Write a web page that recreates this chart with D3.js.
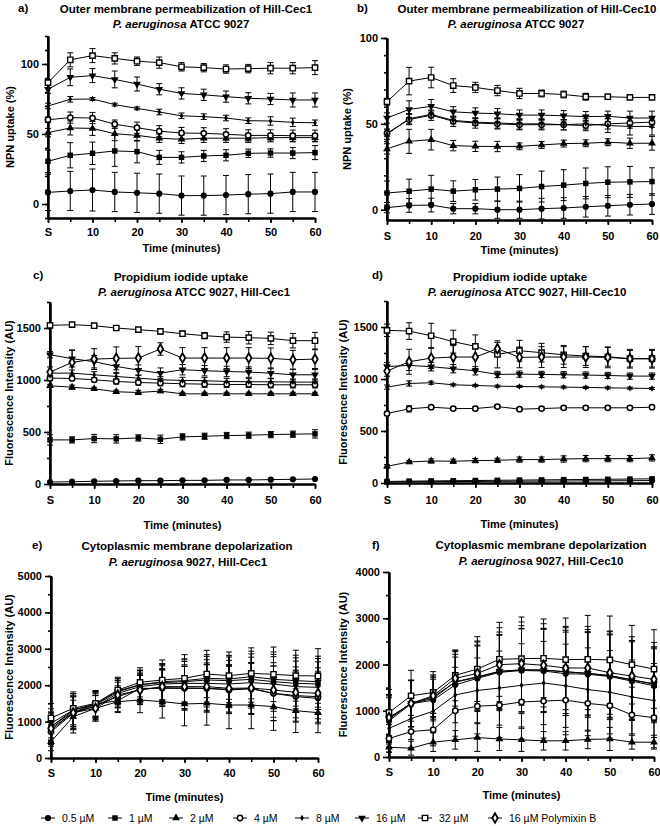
<!DOCTYPE html>
<html><head><meta charset="utf-8">
<script src="https://cdn.jsdelivr.net/npm/d3@7"></script>
<style>body{margin:0;background:#fff} svg{font-family:"Liberation Sans",Arial,sans-serif}</style>
</head><body><svg id="chart" width="660" height="826"></svg>
<script>
const times = [0,5,10,15,20,25,30,35,40,45,50,55,60];
const xMajor = [0,10,20,30,40,50,60];
const xLabels = ["S","10","20","30","40","50","60"];
const seriesNames = ["0.5 µM","1 µM","2 µM","4 µM","8 µM","16 µM","32 µM","16 µM Polymixin B"];

// a) NPN uptake, Hill-Cec1
const a_05 = [8.3,9.3,10,8.6,8,7.4,6,6,6.4,7,7.4,8.6,8.6];
const a_05_sd = [13,14,15,14,14,14,14,14,14,14,14,14,14];
const a_1 = [30.5,34.8,36.2,37.9,37.4,33.3,33.3,34.3,34.8,36.2,36.4,36.4,36.7];
const a_1_sd = [8,9,8,11,8,5,4,4,4,3,3,4,5];
const a_2 = [51,54.3,54,50.2,49,47,46.2,47,47,47,47.4,47.4,47.4];
const a_2_sd = [3,5,5,5,4,3,3,3,3,3,3,3,3];
const a_4 = [60.2,61.7,61.4,57,54.5,52,50.7,50.5,49.8,49,49,48.8,48.8];
const a_4_sd = [2,4,4,3,4,4,4,4,4,4,4,4,4];
const a_8 = [70,74.8,75,71,68.3,65.7,63,62.4,61.4,59.5,59.3,58.3,58];
const a_8_sd = [2,2,1,1,1,2,2,2,2,2,3,3,2];
const a_16 = [82,90.5,91.7,89,85.7,82,79,78,76.7,75.5,75,74.3,74.3];
const a_16_sd = [3,6,5,6,5,4,4,4,4,4,4,5,5];
const a_32 = [86.7,103,106,104,102,101,98,97.4,96.4,96.7,97,97,97.4];
const a_32_sd = [2,5,5,4,3,4,3,3,3,3,4,4,5];

// b) NPN uptake, Hill-Cec10
const b_05 = [1.2,2.5,2.7,0.6,0.6,0,0,0.6,1,1.7,2.3,2.9,3.3];
const b_05_sd = [3,4,4,3,3,5,5,6,6,6,6,6,6];
const b_1 = [9.7,10.8,12,10.8,11.6,12,12.4,13.5,14.3,15.3,16,16.2,16.4];
const b_1_sd = [7,7,8,6,6,7,8,9,9,9,9,9,8];
const b_2 = [35.4,39.8,40.8,37.3,36.9,36.8,36.9,37.7,38.5,38.7,39.3,38.7,38.7];
const b_2_sd = [3,7,6,3,3,3,2,2,2,2,2,3,4];
const b_4 = [44.5,52.5,55,51.5,50.5,50,49.5,49.5,49.5,49,50,50.5,51];
const b_4_sd = [2,3,3,3,3,3,3,3,3,3,3,3,3];
const b_8 = [44,53,55.5,52,51,50.5,50,50,49.5,50,49,48.5,48.5];
const b_8_sd = [3,3,2,2,2,3,3,3,3,3,4,5,5];
const b_16 = [53.4,58.4,60.2,57,56.3,55.9,55.1,55.1,54.7,54.2,54.4,53.4,53.4];
const b_16_sd = [3,5,4,3,3,3,3,3,3,3,3,4,4];
const b_32 = [62.9,74.9,77,72.3,71.2,69.4,67.7,67.7,67.1,65.8,65.8,65.4,65.4];
const b_32_sd = [2,8,6,4,3,3,3,2,2,2,1,1,1];

// c) PI uptake, Hill-Cec1
const c_05 = [19,22,26,29,32,32,35,35,39,39,42,45,48];
const c_05_sd = [5,5,5,5,5,5,5,5,5,5,5,5,5];
const c_1 = [424,424,437,434,443,430,453,459,466,469,475,479,482];
const c_1_sd = [50,30,40,40,30,40,30,30,30,30,30,30,40];
const c_2 = [944,931,915,887,880,893,867,867,867,867,867,867,867];
const c_2_sd = [15,20,15,15,20,15,15,15,15,15,15,15,15];
const c_4 = [1018,1015,1002,986,976,970,964,960,957,957,954,954,954];
const c_4_sd = [20,20,20,25,25,25,30,30,30,30,30,30,30];
const c_8 = [1066,1066,1050,1034,1018,1002,996,993,986,983,983,980,980];
const c_8_sd = [20,30,30,30,30,30,30,30,30,30,30,30,30];
const c_16 = [1243,1205,1176,1131,1095,1066,1099,1089,1082,1076,1066,1050,1050];
const c_16_sd = [30,80,60,60,50,50,50,50,50,50,50,50,50];
const c_32 = [1525,1532,1522,1500,1484,1468,1445,1426,1413,1407,1400,1378,1378];
const c_32_sd = [20,15,15,15,20,25,25,30,50,60,60,70,80];
const c_pmb = [1076,1169,1201,1208,1211,1298,1211,1211,1211,1211,1208,1195,1201];
const c_pmb_sd = [50,120,100,110,110,60,100,100,100,100,100,90,90];

// d) PI uptake, Hill-Cec10
const d_05 = [10,12,13,14,15,16,17,18,19,20,21,22,24];
const d_05_sd = [5,5,5,5,5,5,5,5,5,5,5,5,5];
const d_1 = [15,18,20,22,24,26,28,30,32,34,36,38,40];
const d_1_sd = [10,10,10,10,10,10,10,10,10,10,10,10,10];
const d_2 = [161,202,212,209,215,218,225,225,231,234,234,234,241];
const d_2_sd = [15,15,20,20,20,20,25,25,30,30,30,30,30];
const d_4 = [668,713,729,716,716,735,710,716,723,723,723,723,729];
const d_4_sd = [20,30,15,15,20,15,15,15,15,15,15,15,15];
const d_8 = [922,957,964,944,938,931,928,925,922,919,915,912,909];
const d_8_sd = [20,25,15,10,10,10,10,10,10,10,10,10,10];
const d_16 = [1120,1131,1118,1099,1079,1044,1047,1044,1041,1038,1034,1028,1028];
const d_16_sd = [40,50,40,40,40,30,30,30,30,30,30,30,30];
const d_32 = [1468,1461,1416,1359,1314,1237,1272,1253,1233,1221,1214,1195,1195];
const d_32_sd = [60,80,120,110,110,130,100,90,90,90,90,80,80];
const d_pmb = [1076,1166,1201,1211,1211,1291,1208,1211,1211,1211,1208,1195,1195];
const d_pmb_sd = [50,120,100,110,110,60,100,100,100,100,100,90,90];

// e) DiSC3(5), Hill-Cec1
const e_05 = [769,1245,1484,1575,1914,1914,1914,1914,1887,1905,1777,1685,1639];
const e_05_sd = [400,450,350,300,400,500,600,650,650,700,750,700,700];
const e_1 = [861,1319,1484,1841,2015,2070,2097,2143,2125,2161,2097,2051,2033];
const e_1_sd = [400,450,350,350,400,500,600,650,650,700,750,700,700];
const e_2 = [449,1136,1365,1548,1594,1548,1484,1502,1456,1456,1410,1300,1245];
const e_2_sd = [250,450,350,300,350,450,600,600,650,650,650,600,550];
const e_4 = [723,1227,1438,1685,1887,1932,1923,1914,1868,1905,1777,1713,1685];
const e_4_sd = [400,450,350,300,400,500,600,650,650,700,750,700,700];
const e_8 = [861,1273,1410,1777,1960,2033,2051,2051,2033,2070,2033,1960,1941];
const e_8_sd = [400,450,350,350,400,500,600,650,650,700,750,700,700];
const e_16 = [952,1319,1456,1822,2006,2097,2125,2189,2170,2234,2161,2125,2097];
const e_16_sd = [400,450,350,350,400,500,600,650,650,700,750,700,700];
const e_32 = [1099,1365,1502,1868,2079,2143,2189,2308,2262,2326,2299,2262,2253];
const e_32_sd = [400,450,350,350,400,550,650,650,650,700,750,700,750];
const e_pmb = [815,1245,1365,1731,1868,1960,1960,1960,1914,1923,1868,1804,1777];
const e_pmb_sd = [400,450,350,350,400,500,600,650,650,700,750,700,700];

// f) DiSC3(5), Hill-Cec10
const f_05 = [780,1150,1230,1560,1700,1830,1870,1860,1800,1790,1740,1640,1540];
const f_05_sd = [500,500,450,600,700,800,900,900,900,900,900,850,800];
const f_1 = [820,1160,1300,1620,1720,1850,1880,1880,1840,1810,1760,1670,1580];
const f_1_sd = [500,500,450,600,700,800,900,900,900,900,900,850,800];
const f_2 = [210,190,320,370,420,390,370,350,350,380,390,320,320];
const f_2_sd = [100,150,200,200,300,250,250,200,200,200,250,150,150];
const f_4 = [400,550,590,1000,1100,1120,1190,1210,1230,1160,1110,910,850];
const f_4_sd = [300,350,350,550,600,700,800,800,750,700,700,600,650];
const f_8 = [620,830,990,1340,1440,1490,1550,1600,1540,1460,1400,1300,1220];
const f_8_sd = [400,450,450,600,700,800,900,900,900,900,900,800,800];
const f_16 = [839,1157,1266,1627,1736,1852,1888,1881,1844,1808,1758,1664,1577];
const f_16_sd = [500,500,450,650,750,850,950,900,950,950,950,850,800];
const f_32 = [962,1324,1396,1765,1902,2112,2127,2134,2105,2112,2098,1996,1902];
const f_32_sd = [500,550,450,550,700,800,900,850,900,950,950,850,850];
const f_pmb = [853,1157,1324,1700,1808,1996,2018,1982,1924,1924,1823,1750,1678];
const f_pmb_sd = [500,500,450,600,700,800,900,900,900,900,900,850,800];

const panels = [
  {letter:"a)", t1:"Outer membrane permeabilization of Hill-Cec1", t2:[["P. aeruginosa",true],[" ATCC 9027",false]],
   t1x:186, t2x:181, ty1:9, ty2:24, lx:18, ly:8,
   x0:48, x1:315, dom:[-10,120], r:[218,36], yMajor:[0,50,100], yMinor:d3.range(-10,121,10),
   ylabel:"NPN uptake (%)", ylx:10, xly:232, xty:248,
   series:[[a_05,a_05_sd,0],[a_1,a_1_sd,1],[a_2,a_2_sd,2],[a_4,a_4_sd,3],[a_8,a_8_sd,4],[a_16,a_16_sd,5],[a_32,a_32_sd,6]]},
  {letter:"b)", t1:"Outer membrane permeabilization of Hill-Cec10", t2:[["P. aeruginosa",true],[" ATCC 9027",false]],
   t1x:527, t2x:516, ty1:9, ty2:24, lx:357, ly:8,
   x0:387, x1:652, dom:[-6,100], r:[220,38], yMajor:[0,50,100], yMinor:d3.range(0,101,10),
   ylabel:"NPN uptake (%)", ylx:347, xly:236, xty:250,
   series:[[b_05,b_05_sd,0],[b_1,b_1_sd,1],[b_2,b_2_sd,2],[b_4,b_4_sd,3],[b_8,b_8_sd,4],[b_16,b_16_sd,5],[b_32,b_32_sd,6]]},
  {letter:"c)", t1:"Propidium iodide uptake", t2:[["P. aeruginosa",true],[" ATCC 9027, Hill-Cec1",false]],
   t1x:181, t2x:194, ty1:277, ty2:292, lx:33, ly:275,
   x0:50, x1:315, dom:[0,1750], r:[484,302], yMajor:[0,500,1000,1500], yMinor:d3.range(0,1751,250),
   ylabel:"Fluorescence Intensity (AU)", ylx:9, xly:500, xty:525,
   series:[[c_05,c_05_sd,0],[c_1,c_1_sd,1],[c_2,c_2_sd,2],[c_4,c_4_sd,3],[c_8,c_8_sd,4],[c_16,c_16_sd,5],[c_32,c_32_sd,6],[c_pmb,c_pmb_sd,7]]},
  {letter:"d)", t1:"Propidium iodide uptake", t2:[["P. aeruginosa",true],[" ATCC 9027, Hill-Cec10",false]],
   t1x:520, t2x:527, ty1:277, ty2:292, lx:372, ly:275,
   x0:387, x1:652, dom:[0,1750], r:[483,301], yMajor:[0,500,1000,1500], yMinor:d3.range(0,1751,250),
   ylabel:"Fluorescence Intensity (AU)", ylx:343, xly:500, xty:524,
   series:[[d_05,d_05_sd,0],[d_1,d_1_sd,1],[d_2,d_2_sd,2],[d_4,d_4_sd,3],[d_8,d_8_sd,4],[d_16,d_16_sd,5],[d_32,d_32_sd,6],[d_pmb,d_pmb_sd,7]]},
  {letter:"e)", t1:"Cytoplasmic membrane depolarization", t2:[["P. aeruginosa",true],["a 9027, Hill-Cec1",false]],
   t1x:187, t2x:188, ty1:546, ty2:562, lx:32, ly:545,
   x0:51, x1:318, dom:[0,5000], r:[758,576], yMajor:[0,1000,2000,3000,4000,5000], yMinor:d3.range(0,5001,500),
   ylabel:"Fluorescence Intensity (AU)", ylx:9, xly:773, xty:797,
   series:[[e_05,e_05_sd,0],[e_1,e_1_sd,1],[e_2,e_2_sd,2],[e_4,e_4_sd,3],[e_8,e_8_sd,4],[e_16,e_16_sd,5],[e_32,e_32_sd,6],[e_pmb,e_pmb_sd,7]]},
  {letter:"f)", t1:"Cytoplasmic membrane depolarization", t2:[["P. aeruginos",true],["a 9027, Hill-Cec10",false]],
   t1x:541, t2x:541, ty1:545, ty2:561, lx:372, ly:545,
   x0:389, x1:654, dom:[0,4000], r:[757,572], yMajor:[0,1000,2000,3000,4000], yMinor:d3.range(0,4001,500),
   ylabel:"Fluorescence Intensity (AU)", ylx:343, xly:772, xty:795,
   series:[[f_05,f_05_sd,0],[f_1,f_1_sd,1],[f_2,f_2_sd,2],[f_4,f_4_sd,3],[f_8,f_8_sd,4],[f_16,f_16_sd,5],[f_32,f_32_sd,6],[f_pmb,f_pmb_sd,7]]}
];
// panel e title uses "P. aeruginosa 9027" with the final "a" upright in the original
panels[4].t2 = [["P. aeruginos",true],["a 9027, Hill-Cec1",false]];

const svg = d3.select("#chart");
const FONT = "'Liberation Sans', Arial, sans-serif";

function drawMarker(g, type, x, y) {
  const sym = d3.symbol();
  const m = g.append("path").attr("transform", `translate(${x},${y})`);
  switch (type) {
    case 0: m.attr("d", sym.type(d3.symbolCircle).size(30)()).attr("fill","#000"); break;
    case 1: m.attr("d", sym.type(d3.symbolSquare).size(30)()).attr("fill","#000"); break;
    case 2: m.attr("d", sym.type(d3.symbolTriangle).size(26)()).attr("fill","#000"); break;
    case 3: m.attr("d", sym.type(d3.symbolCircle).size(22)()).attr("fill","#fff").attr("stroke","#000").attr("stroke-width",1.5); break;
    case 4: m.attr("d", sym.type(d3.symbolDiamond).size(12)()).attr("fill","#000"); break;
    case 5: m.attr("d", sym.type(d3.symbolTriangle).size(26)()).attr("fill","#000").attr("transform", `translate(${x},${y}) rotate(180)`); break;
    case 6: m.attr("d", sym.type(d3.symbolSquare).size(28)()).attr("fill","#fff").attr("stroke","#000").attr("stroke-width",1.4); break;
    case 7: m.attr("d", sym.type(d3.symbolDiamond).size(26)()).attr("fill","#fff").attr("stroke","#000").attr("stroke-width",1.8); break;
  }
}

panels.forEach(p => {
  const g = svg.append("g");
  const x = d3.scaleLinear().domain([0,60]).range([p.x0,p.x1]);
  const y = d3.scaleLinear().domain(p.dom).range(p.r);
  const yBottom = p.r[0];

  // titles
  g.append("text").attr("x", p.lx).attr("y", p.ly).attr("dy","0.35em").attr("font-size",11.5).attr("font-weight","bold").text(p.letter);
  g.append("text").attr("x", p.t1x).attr("y", p.ty1).attr("dy","0.35em").attr("text-anchor","middle")
    .attr("font-size",11.5).attr("font-weight","bold").text(p.t1);
  const t2 = g.append("text").attr("x", p.t2x).attr("y", p.ty2).attr("dy","0.35em").attr("text-anchor","middle")
    .attr("font-size",11.5).attr("font-weight","bold");
  p.t2.forEach(([s, it]) => t2.append("tspan").attr("font-style", it ? "italic" : "normal").text(s));

  const fmt = d3.format("d");
  const yMinorAxis = d3.axisLeft(y).tickValues(p.yMinor).tickSize(3).tickFormat("").tickSizeOuter(0);
  const yMajorAxis = d3.axisLeft(y).tickValues(p.yMajor).tickSize(6).tickSizeOuter(0).tickPadding(3).tickFormat(fmt);
  const ga1 = g.append("g").attr("transform", `translate(${p.x0},0)`).call(yMinorAxis);
  const ga2 = g.append("g").attr("transform", `translate(${p.x0},0)`).call(yMajorAxis);
  const xMinorAxis = d3.axisBottom(x).tickValues(times).tickSize(4).tickFormat("").tickSizeOuter(0);
  const xMajorAxis = d3.axisBottom(x).tickValues(xMajor).tickSize(5).tickSizeOuter(0).tickPadding(4)
    .tickFormat((d,i) => xLabels[i]);
  const gx1 = g.append("g").attr("transform", `translate(0,${yBottom})`).call(xMinorAxis);
  const gx2 = g.append("g").attr("transform", `translate(0,${yBottom})`).call(xMajorAxis);
  [ga1,ga2,gx1,gx2].forEach(a => {
    a.selectAll(".domain").attr("stroke","#000").attr("stroke-width",2);
    a.selectAll(".tick line").attr("stroke","#000").attr("stroke-width",1.6);
    a.selectAll("text").attr("font-family",FONT).attr("font-size",11).attr("font-weight","bold").attr("fill","#000");
  });
  gx2.selectAll("text").attr("y", p.xly - yBottom).attr("dy","0.35em");
  g.append("line").attr("x1",p.x0).attr("x2",p.x0).attr("y1",p.r[1]).attr("y2",yBottom+1).attr("stroke","#000").attr("stroke-width",2);

  g.append("text").attr("transform", `translate(${p.ylx},${(p.r[0]+p.r[1])/2}) rotate(-90)`).attr("dy","0.35em")
    .attr("text-anchor","middle").attr("font-size",11).attr("font-weight","bold").text(p.ylabel);
  g.append("text").attr("x",(p.x0+p.x1)/2).attr("y",p.xty).attr("dy","0.35em").attr("text-anchor","middle")
    .attr("font-size",11).attr("font-weight","bold").text("Time (minutes)");

  const line = d3.line().x((d,i) => x(times[i])).y(d => y(d));
  const plot = g.append("g");
  p.series.forEach(([vals]) => {
    plot.append("path").attr("d", line(vals)).attr("fill","none").attr("stroke","#000").attr("stroke-width",1);
  });
  p.series.forEach(([vals, sd]) => {
    vals.forEach((v,i) => {
      const cx = x(times[i]);
      const yt = y(v + sd[i]), yb = y(Math.max(p.dom[0], v - sd[i]));
      plot.append("line").attr("x1",cx).attr("x2",cx).attr("y1",yt).attr("y2",yb).attr("stroke","#000").attr("stroke-width",1);
      plot.append("line").attr("x1",cx-3).attr("x2",cx+3).attr("y1",yt).attr("y2",yt).attr("stroke","#000").attr("stroke-width",1);
      if (v - sd[i] > p.dom[0])
        plot.append("line").attr("x1",cx-3).attr("x2",cx+3).attr("y1",yb).attr("y2",yb).attr("stroke","#000").attr("stroke-width",1);
    });
  });
  p.series.forEach(([vals, sd, type]) => {
    vals.forEach((v,i) => drawMarker(plot, type, x(times[i]), y(v)));
  });
});

const legendX = [48, 115, 176, 240, 302, 362, 425, 495];
const lg = svg.append("g");
seriesNames.forEach((name, i) => {
  const cx = legendX[i];
  lg.append("line").attr("x1",cx-7).attr("x2",cx+7).attr("y1",818).attr("y2",818).attr("stroke","#000").attr("stroke-width",1);
  drawMarker(lg, i, cx, 818);
  lg.append("text").attr("x",cx+14).attr("y",818).attr("dy","0.35em").attr("font-size",10.5).text(name);
});
</script></body></html>
